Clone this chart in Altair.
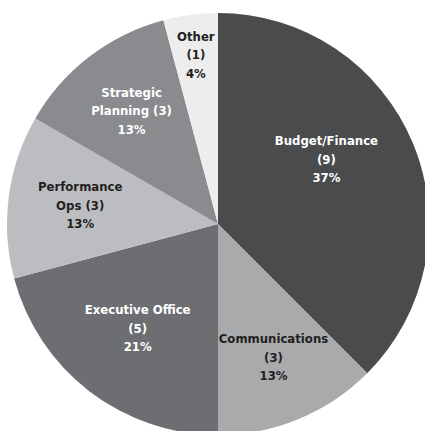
import altair as alt
import pandas as pd

categories = ["Budget/Finance", "Communications", "Executive Office",
              "Performance Ops", "Strategic Planning", "Other"]
counts = [9, 3, 5, 3, 3, 1]
label_names = ["Budget/Finance\n(9)", "Communications\n(3)", "Executive Office\n(5)",
               "Performance\nOps (3)", "Strategic\nPlanning (3)", "Other\n(1)"]
percents = ["37%", "13%", "21%", "13%", "13%", "4%"]

slice_colors = ["#4a4b4d", "#a9aaac", "#6d6e71", "#bcbdc0", "#8a8b8e", "#ededee"]
dark_text = ["Communications", "Performance Ops", "Other"]

df = pd.DataFrame({
    "category": categories,
    "count": counts,
    "order": list(range(len(categories))),
    "label": [f"{n}\n{p}" for n, p in zip(label_names, percents)],
})

CX, CY, R = 218, 224, 211
FONT = "Liberation Sans Narrow, DejaVu Sans Condensed, sans-serif"
LH = 18.5

# label placement (radius, dx, dy) per slice -- styling, kept apart from data
placement = {
    "Budget/Finance": (126, -8, -16),
    "Communications": (145, 0, 0),
    "Executive Office": (132, 0, 0),
    "Performance Ops": (139, 0, 0),
    "Strategic Planning": (142, 0, 0),
    "Other": (170, 0, 0),
}

base = alt.Chart(df).encode(
    theta=alt.Theta("count:Q", stack=True),
    order=alt.Order("order:Q", sort="ascending"),
    x=alt.value(CX),
    y=alt.value(CY),
)

pie = base.mark_arc(outerRadius=R).encode(
    color=alt.Color("category:N", scale=alt.Scale(domain=categories, range=slice_colors),
                    legend=None)
)

text_color = alt.condition(
    alt.FieldOneOfPredicate(field="category", oneOf=dark_text),
    alt.value("#231f20"), alt.value("#ffffff")
)

layers = [pie]
for cat, (rad, dx, dy) in placement.items():
    layers.append(
        base.mark_text(
            radius=rad, dx=dx, dy=dy - LH, lineBreak="\n", font=FONT, fontWeight="bold",
            fontSize=13, lineHeight=LH, align="center", baseline="middle"
        ).encode(
            text="label:N",
            color=text_color,
            opacity=alt.condition(alt.FieldEqualPredicate(field="category", equal=cat),
                                  alt.value(1), alt.value(0)),
        )
    )

chart = alt.layer(*layers).properties(
    width=425, height=431, padding=0, autosize=alt.AutoSizeParams(type="none"),
    background="white"
).configure_view(stroke=None)

chart.save("out.html", embed_options={"renderer": "svg", "actions": False})
